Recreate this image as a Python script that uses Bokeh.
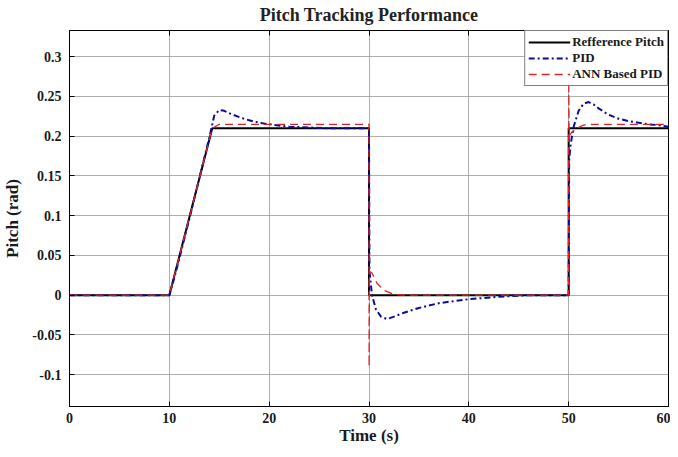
from bokeh.plotting import figure
from bokeh.models import (FixedTicker, LinearAxis, CustomJSTickFormatter, Range1d, Legend,
                          LegendItem, CustomLabelingPolicy)
from bokeh.embed import file_html
from bokeh.resources import INLINE

# Reference pitch
ref_t = [0, 10, 14.3, 30, 30, 50, 50, 60]
ref_v = [0, 0, 0.21, 0.21, 0, 0, 0.21, 0.21]

# PID response
pid_t = [0, 10, 10.5, 11, 12, 13, 14, 14.5, 15, 15.5, 16, 17, 18, 19, 20, 22, 24, 26, 28, 30,
         30.05, 30.3, 30.7, 31.2, 31.8, 32.5, 33.5, 35, 37, 40, 43, 46, 50,
         50.05, 50.2, 50.5, 51, 51.5, 52, 52.5, 53, 54, 55, 56, 57, 58, 59, 60]
pid_v = [0, 0, 0.022, 0.046, 0.096, 0.147, 0.198, 0.226, 0.233, 0.232, 0.229, 0.224, 0.22, 0.217, 0.215,
         0.212, 0.211, 0.21, 0.21, 0.21,
         0.03, 0.0, -0.018, -0.027, -0.03, -0.027, -0.022, -0.016, -0.01, -0.005, -0.002, 0, 0,
         0.17, 0.19, 0.212, 0.232, 0.241, 0.243, 0.24, 0.235, 0.227, 0.222, 0.219, 0.217, 0.215, 0.214, 0.212]

# ANN based PID response
ann_t = [0, 10, 14.3, 15, 30, 30.01, 30.05, 30.3, 30.8, 31.5, 32.5, 34, 50,
         50.01, 50.05, 50.3, 50.8, 51.5, 52.5, 60]
ann_v = [0, 0, 0.21, 0.215, 0.215, -0.09, 0.03, 0.028, 0.015, 0.006, 0.001, 0, 0,
         0.27, 0.2, 0.205, 0.21, 0.214, 0.215, 0.215]

x_ticks = [0, 10, 20, 30, 40, 50, 60]
y_ticks = [-0.1, -0.05, 0, 0.05, 0.1, 0.15, 0.2, 0.25, 0.3]

FONT = "Liberation Serif"

p = figure(width=670, height=447, output_backend="svg", toolbar_location=None,
           x_range=Range1d(0, 60), y_range=Range1d(-0.14, 0.333),
           title="Pitch Tracking Performance",
           min_border_left=0, min_border_right=2, min_border_bottom=0, min_border_top=0)

p.title.align = "center"
p.title.text_font = FONT
p.title.text_font_style = "bold"
p.title.text_font_size = "18px"
p.title.text_color = "#222222"
p.title.standoff = 4

p.outline_line_color = "black"
p.outline_line_width = 1
p.background_fill_color = "white"
p.border_fill_color = "white"

fmt = CustomJSTickFormatter(code="return String(Math.round(tick*100)/100);")

for ax in p.xaxis:
    ax.ticker = FixedTicker(ticks=x_ticks)
    ax.axis_label = "Time (s)"
for ax in p.yaxis:
    ax.ticker = FixedTicker(ticks=y_ticks)
    ax.formatter = fmt
    ax.axis_label = "Pitch (rad)"

for ax in list(p.xaxis) + list(p.yaxis):
    ax.major_tick_in = 5
    ax.major_tick_out = 0
    ax.minor_tick_in = 0
    ax.minor_tick_out = 0
    ax.minor_tick_line_color = None
    ax.axis_line_color = "black"
    ax.major_label_text_font = FONT
    ax.major_label_text_font_style = "bold"
    ax.major_label_text_font_size = "14px"
    ax.major_label_text_color = "#1a1a1a"
    ax.axis_label_text_font = FONT
    ax.axis_label_text_font_style = "bold"
    ax.axis_label_text_font_size = "17px"
    ax.axis_label_text_color = "#1a1a1a"
    ax.axis_label_text_line_height = 0.9
p.xaxis.axis_label_standoff = 0
p.xaxis.major_label_standoff = 6
p.yaxis.axis_label_standoff = 7
p.yaxis.major_label_standoff = 8

no_labels = CustomLabelingPolicy(code="return new Set()")
top = LinearAxis(ticker=FixedTicker(ticks=x_ticks), major_label_policy=no_labels,
                 major_label_standoff=0, major_label_text_font_size="1px",
                 major_tick_in=5, major_tick_out=0, minor_tick_in=0, minor_tick_out=0,
                 minor_tick_line_color=None)
p.add_layout(top, "above")

p.xgrid.ticker = FixedTicker(ticks=x_ticks)
p.ygrid.ticker = FixedTicker(ticks=y_ticks)
p.grid.grid_line_color = "#9a9a9a"
p.grid.grid_line_width = 1
p.grid.grid_line_alpha = 0.8

r_ref = p.line(ref_t, ref_v, line_color="black", line_width=2)
r_pid = p.line(pid_t, pid_v, line_color="#0b0b9c", line_width=2, line_dash="6 3 2 3")
r_ann = p.line(ann_t, ann_v, line_color="#d8262a", line_width=1.3, line_dash="8 5")

legend = Legend(items=[LegendItem(label="Refference Pitch", renderers=[r_ref]),
                       LegendItem(label="PID", renderers=[r_pid]),
                       LegendItem(label="ANN Based PID", renderers=[r_ann])],
                location="top_right")
legend.margin = 0
legend.padding = 3
legend.spacing = 0
legend.label_standoff = 2
legend.glyph_width = 42
legend.glyph_height = 14
legend.label_height = 14
legend.label_text_font = FONT
legend.label_text_font_style = "bold"
legend.label_text_font_size = "13px"
legend.label_text_color = "#1a1a1a"
legend.border_line_color = "black"
legend.border_line_width = 1
legend.background_fill_alpha = 1
p.add_layout(legend, "center")

open("out.html", "w").write(file_html(p, INLINE))
